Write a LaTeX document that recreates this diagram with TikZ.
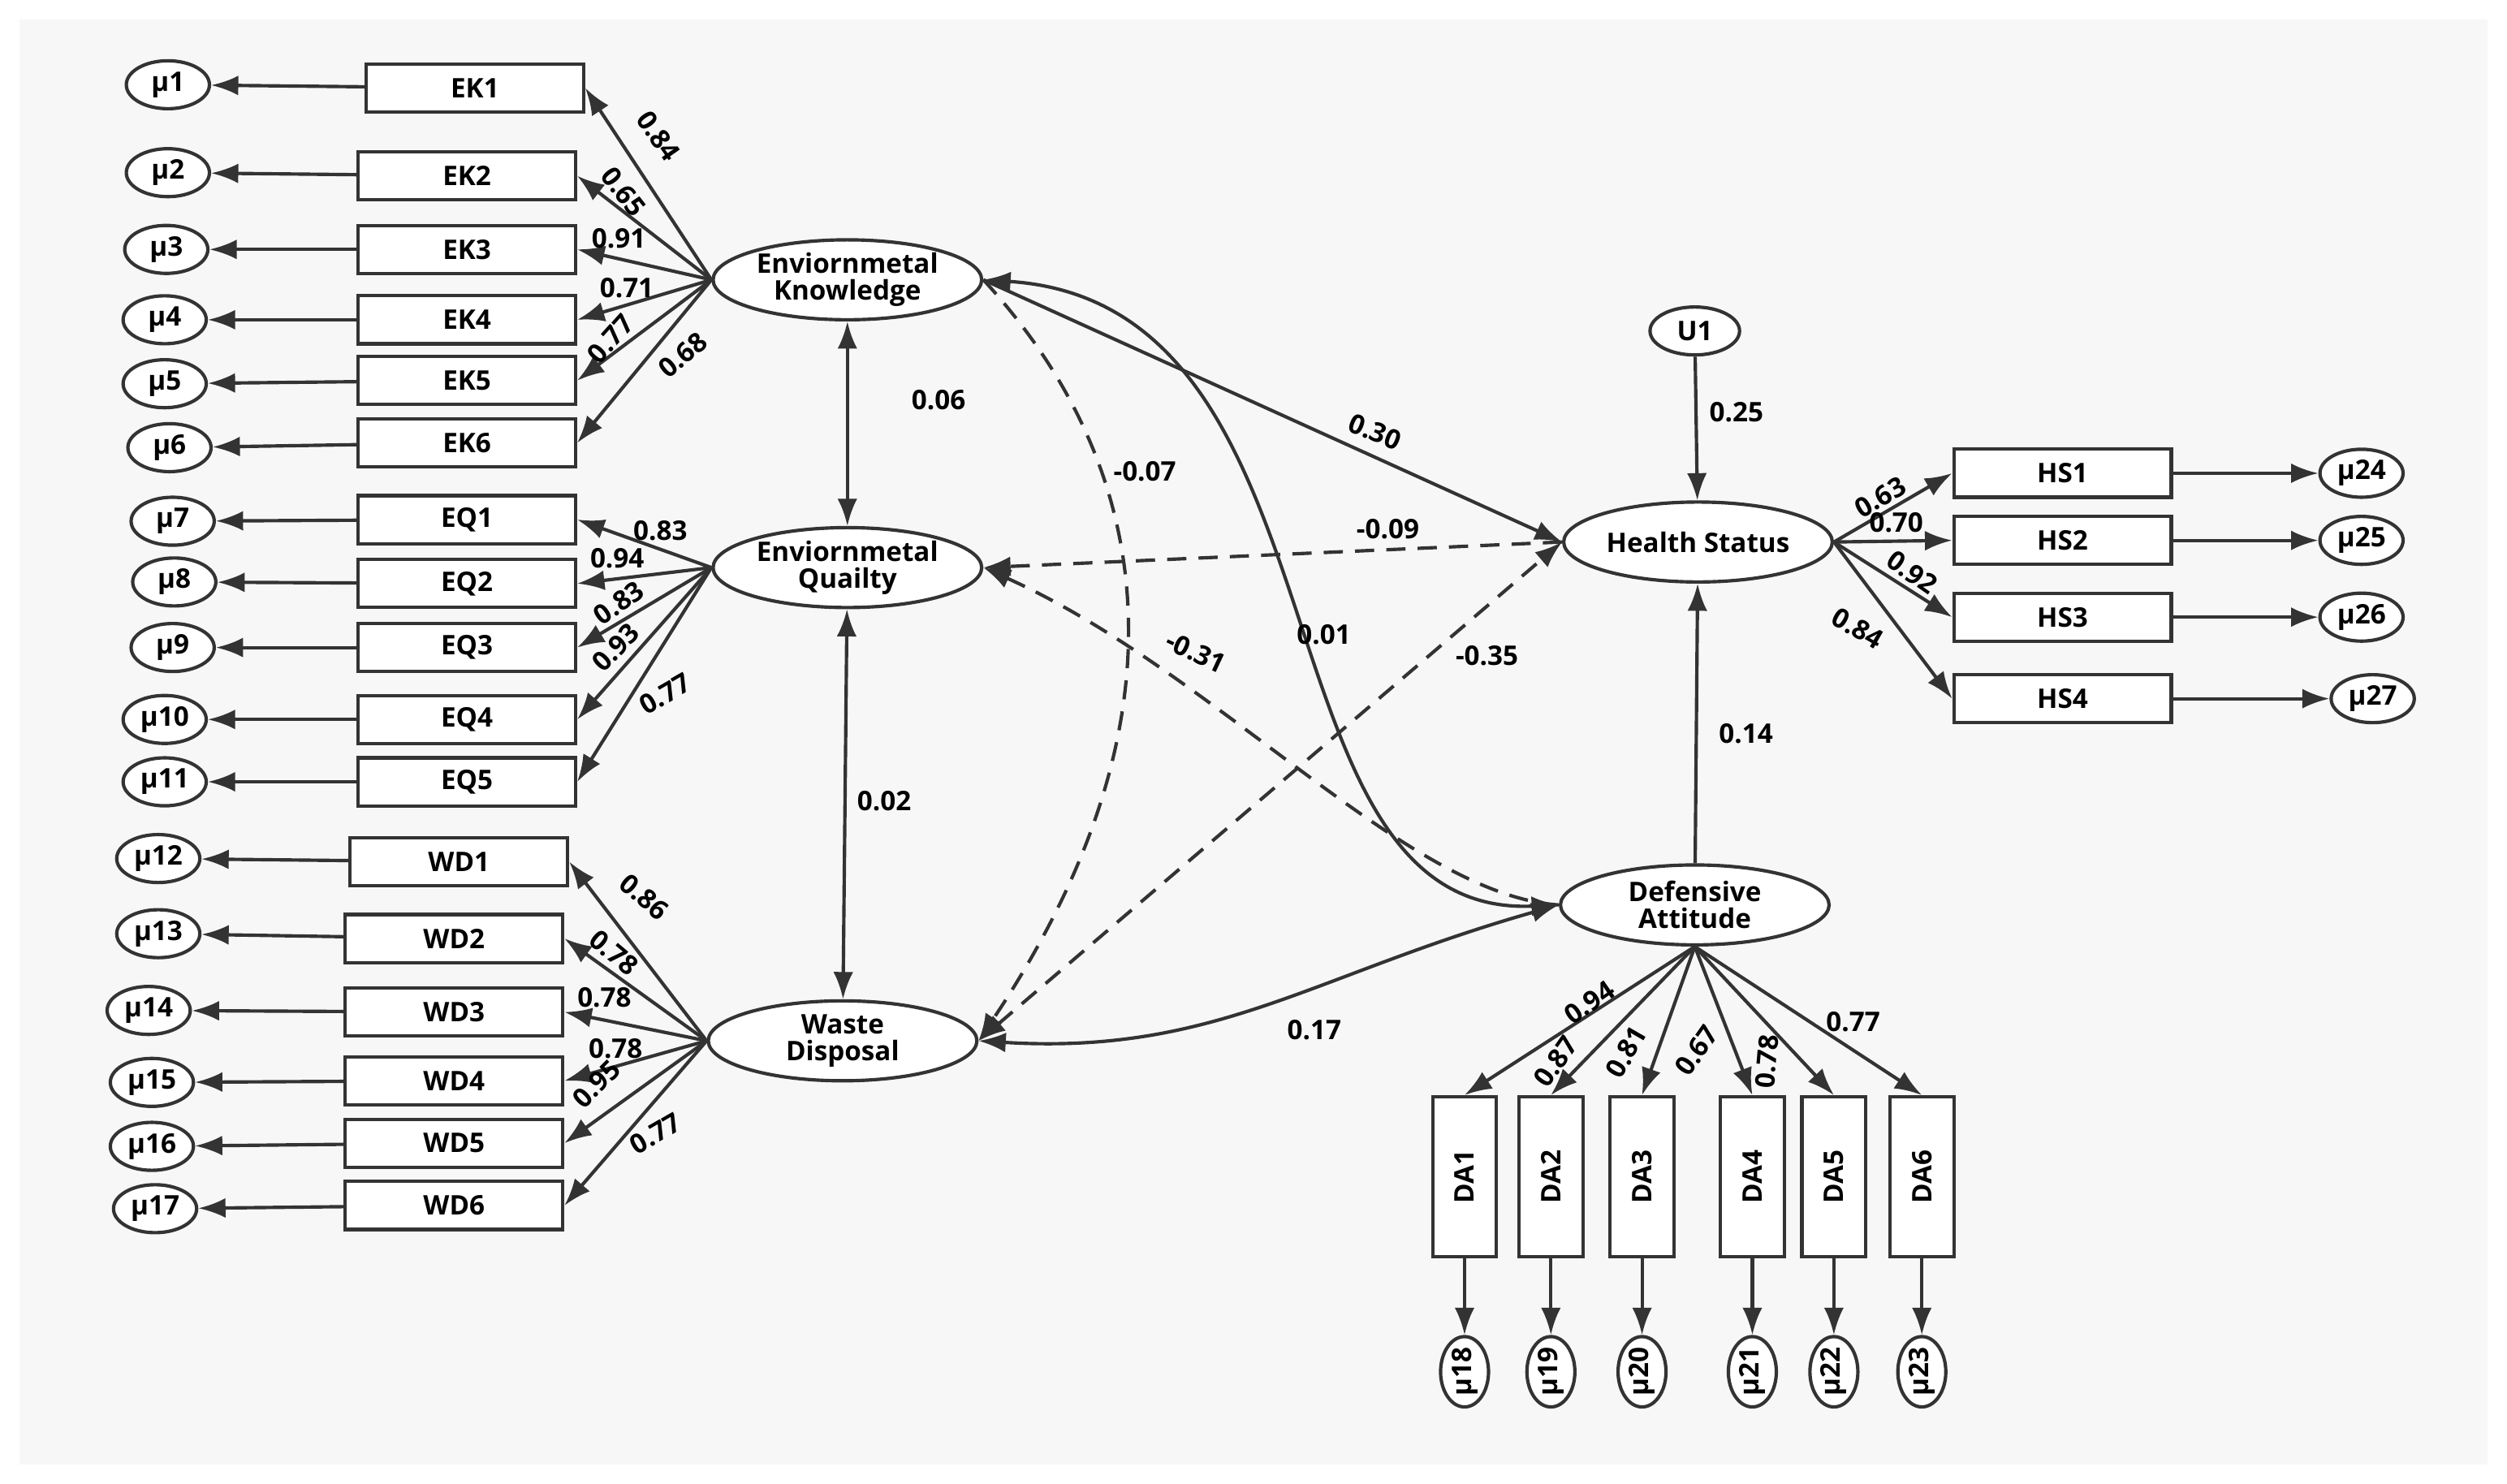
\documentclass[tikz,border=0pt]{standalone}
\usepackage{fontspec}
\setmainfont{Open Sans}
\usetikzlibrary{arrows.meta,shapes.geometric}
\begin{document}
\begin{tikzpicture}[x=0.05cm,y=-0.05cm,
  font=\fontsize{24}{26}\selectfont\bfseries,
  ln/.style={line width=3pt,draw=black!80},
  arr/.style={ln,-{Latex[length=0.85cm,width=0.62cm]}},
  darr/.style={ln,{Latex[length=0.85cm,width=0.62cm]}-{Latex[length=0.85cm,width=0.62cm]}},
  dsh/.style={dash pattern=on 0.6cm off 0.38cm},
  box/.style={draw=black!80,line width=3pt,fill=white,minimum width=6.8cm,minimum height=1.5cm,inner sep=0pt},
  vbox/.style={draw=black!80,line width=3pt,fill=white,minimum width=5cm,minimum height=2cm,rotate=90,inner sep=0pt},
  err/.style={ellipse,draw=black!80,line width=3pt,fill=white,minimum width=2.6cm,minimum height=1.5cm,inner sep=0pt},
  verr/.style={ellipse,draw=black!80,line width=3pt,fill=white,minimum width=2.2cm,minimum height=1.5cm,inner sep=0pt,rotate=90},
  lat/.style={ellipse,draw=black!80,line width=3pt,fill=white,minimum width=8.4cm,minimum height=2.5cm,inner sep=0pt,align=center,font=\fontsize{24}{27}\selectfont\bfseries},
  lab/.style={inner sep=1pt}]
\fill[white] (0,0) rectangle (1568,928);
\fill[gray!6] (12,12) rectangle (1556,916);
\useasboundingbox (0,0) rectangle (1568,928);

% latent
\node[lat] (EK) at (530,175) {Enviornmetal\\[-3pt]Knowledge};
\node[lat] (EQ) at (530,355) {Enviornmetal\\[-3pt]Quailty};
\node[lat] (WD) at (527,651) {Waste\\[-3pt]Disposal};
\node[lat] (HS) at (1062,339) {Health Status};
\node[lat] (DA) at (1060,566) {Defensive\\[-3pt]Attitude};
\node[ellipse,draw=black!80,line width=3pt,fill=white,minimum width=2.8cm,minimum height=1.5cm,inner sep=0pt] (U1) at (1060,207) {U1};

% EK indicators
\foreach \n/\bx/\by/\ex/\ey in {1/297/55/105/53, 2/292/110/105/108, 3/292/156/104/156, 4/292/200/103/200, 5/292/238/103/240, 6/292/277/106/280}{
  \node[box] (EK\n) at (\bx,\by) {EK\n};
  \node[err] (m\n) at (\ex,\ey) {μ\n};
  \draw[arr] (EK\n) -- (m\n);
  \draw[arr] (EK.west) -- (EK\n.east);
}
\foreach \n/\m/\bx/\by/\ex/\ey in {1/7/292/325/108/326, 2/8/292/365/109/364, 3/9/292/405/108/405, 4/10/292/450/103/450, 5/11/292/489/103/489}{
  \node[box] (EQ\n) at (\bx,\by) {EQ\n};
  \node[err] (m\m) at (\ex,\ey) {μ\m};
  \draw[arr] (EQ\n) -- (m\m);
  \draw[arr] (EQ.west) -- (EQ\n.east);
}
\foreach \n/\m/\bx/\by/\ex/\ey in {1/12/287/539/99/537, 2/13/284/587/99/584, 3/14/284/633/93/632, 4/15/284/676/95/677, 5/16/284/715/95/717, 6/17/284/754/97/756}{
  \node[box] (WD\n) at (\bx,\by) {WD\n};
  \node[err] (m\m) at (\ex,\ey) {μ\m};
  \draw[arr] (WD\n) -- (m\m);
  \draw[arr] (WD.west) -- (WD\n.east);
}
\foreach \n/\m/\by/\ex in {1/24/296/1477, 2/25/338/1477, 3/26/386/1477, 4/27/437/1484}{
  \node[box] (HS\n) at (1290,\by) {HS\n};
  \node[err] (m\m) at (\ex,\by) {μ\m};
  \draw[arr] (HS\n) -- (m\m);
  \draw[arr] (HS.east) -- (HS\n.west);
}
\foreach \n/\m/\bx in {1/18/916, 2/19/970, 3/20/1027, 4/21/1096, 5/22/1147, 6/23/1202}{
  \node[vbox] (DA\n) at (\bx,736) {DA\n};
  \node[verr] (m\m) at (\bx,858) {μ\m};
  \draw[arr] (DA\n) -- (m\m);
  \draw[arr] (DA.south) -- (DA\n.east);
}

% loading labels
\node[lab,rotate=-55] at (412,85) {0.84};
\node[lab,rotate=-52] at (390,120) {0.65};
\node[lab] at (387,149) {0.91};
\node[lab] at (392,180) {0.71};
\node[lab,rotate=48] at (382,212) {0.77};
\node[lab,rotate=40] at (427,222) {0.68};
\node[lab] at (413,332) {0.83};
\node[lab] at (386,349) {0.94};
\node[lab,rotate=35] at (387,377) {0.83};
\node[lab,rotate=45] at (385,405) {0.93};
\node[lab,rotate=30] at (416,434) {0.77};
\node[lab,rotate=-40] at (403,561) {0.86};
\node[lab,rotate=-40] at (384,596) {0.78};
\node[lab] at (378,624) {0.78};
\node[lab] at (385,656) {0.78};
\node[lab,rotate=45] at (373,678) {0.95};
\node[lab,rotate=30] at (410,709) {0.77};
\node[lab,rotate=30] at (1176,311) {0.63};
\node[lab] at (1186,327) {0.70};
\node[lab,rotate=-35] at (1196,358) {0.92};
\node[lab,rotate=-30] at (1162,393) {0.84};
\node[lab,rotate=35] at (994,627) {0.94};
\node[lab,rotate=55] at (973,664) {0.87};
\node[lab,rotate=60] at (1017,658) {0.81};
\node[lab,rotate=55] at (1061,657) {0.67};
\node[lab,rotate=85] at (1105,664) {0.78};
\node[lab] at (1159,639) {0.77};

% structural paths
\draw[darr] (EK) -- (EQ);
\draw[darr] (EQ) -- (WD);
\draw[arr] (EK.east) -- (HS.west);
\draw[arr,dsh] (HS.west) -- (EQ.east);
\draw[darr,dsh] (WD.east) -- (HS.west);
\draw[arr,dsh] (EK.east) .. controls (730,300) and (740,460) .. (WD.east);
\draw[arr,dsh] (DA.west) .. controls (880,560) and (760,420) .. (EQ.east);
\draw[darr] (DA.west) .. controls (780,575) and (850,190) .. (EK.east);
\draw[darr] (DA.west) .. controls (820,610) and (760,660) .. (WD.east);
\draw[arr] (U1) -- (HS);
\draw[arr] (DA) -- (HS);

\node[lab] at (587,250) {0.06};
\node[lab] at (553,501) {0.02};
\node[lab,rotate=-22] at (860,270) {0.30};
\node[lab] at (868,331) {-0.09};
\node[lab] at (716,295) {-0.07};
\node[lab] at (828,397) {0.01};
\node[lab,rotate=-25] at (748,408) {-0.31};
\node[lab] at (930,410) {-0.35};
\node[lab] at (822,644) {0.17};
\node[lab] at (1086,258) {0.25};
\node[lab] at (1092,459) {0.14};
\end{tikzpicture}
\end{document}
